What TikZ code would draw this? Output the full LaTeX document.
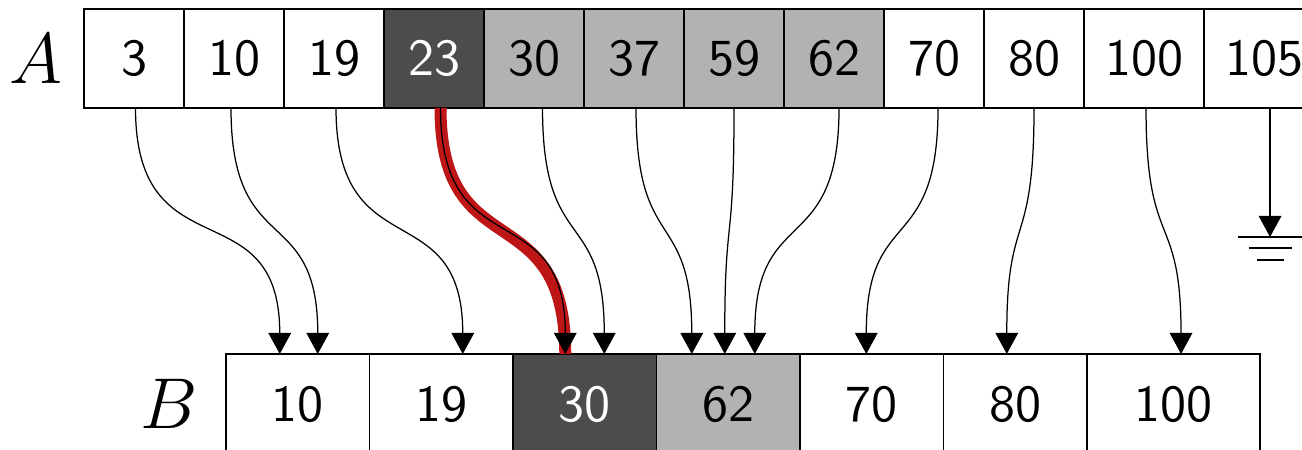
\documentclass[tikz,border=0pt]{standalone}
\usetikzlibrary{positioning,arrows.meta}
\definecolor{hlred}{RGB}{190,22,22}
\begin{document}
\begin{tikzpicture}
[x=0.2pt,y=-0.2pt,
 every node/.style={draw=black,line width=0.25pt,inner sep=0mm,outer sep=0mm,font=\fontsize{10.4}{12}\selectfont\sffamily},
 cell/.style={rectangle,minimum width=20pt,minimum height=19.8pt},
 wide/.style={minimum width=24pt},
 bcell/.style={rectangle,minimum width=28.7pt,minimum height=20pt},
 bwide/.style={minimum width=34.6pt},
 dark/.style={fill=black!70,text=white},
 light/.style={fill=black!30},
 lbl/.style={draw=none,font=\fontsize{15}{18}\selectfont},
 link/.style={line width=0.25pt,-{Triangle[width=4.5pt,length=4.2pt]},out=-90,in=90,looseness=1.5},
 hilite/.style={line width=2.4pt,draw=hlred,out=-90,in=90,looseness=1.5}]
\useasboundingbox (0,0) rectangle (1302,450);
\clip (0,0) rectangle (1302,450);
% array A
\node[cell]       (a3)   at (84,9) [anchor=north west] {3};
\node[cell]       (a10)  [right=0mm of a3]   {10};
\node[cell]       (a19)  [right=0mm of a10]  {19};
\node[cell,dark]  (a23)  [right=0mm of a19]  {23};
\node[cell,light] (a30)  [right=0mm of a23]  {30};
\node[cell,light] (a37)  [right=0mm of a30]  {37};
\node[cell,light] (a59)  [right=0mm of a37]  {59};
\node[cell,light] (a62)  [right=0mm of a59]  {62};
\node[cell]       (a70)  [right=0mm of a62]  {70};
\node[cell]       (a80)  [right=0mm of a70]  {80};
\node[cell,wide]  (a100) [right=0mm of a80]  {100};
\node[cell,wide]  (a105) [right=0mm of a100] {105};
\node[lbl]        (labA) [left=4.4pt of a3]  {$A$};
% array B
\node[bcell]       (b10)  at (226,354) [anchor=north west] {10};
\node[bcell]       (b19)  [right=0mm of b10] {19};
\node[bcell,dark]  (b30)  [right=0mm of b19] {30};
\node[bcell,light] (b62)  [right=0mm of b30] {62};
\node[bcell]       (b70)  [right=0mm of b62] {70};
\node[bcell]       (b80)  [right=0mm of b70] {80};
\node[bcell,bwide] (b100) [right=0mm of b80] {100};
\node[lbl]         (labB) [left=5.6pt of b10] {$B$};
% ground for the last element
\coordinate[below=25.8pt of a105.south,xshift=1.2pt] (gnd);
\draw[line width=0.35pt] ([xshift=-6.5pt]gnd) -- ([xshift=6.5pt]gnd);
\draw[line width=0.35pt] ([xshift=-4.3pt,yshift=-2.2pt]gnd) -- ([xshift=4.3pt,yshift=-2.2pt]gnd);
\draw[line width=0.35pt] ([xshift=-2.7pt,yshift=-4.6pt]gnd) -- ([xshift=2.7pt,yshift=-4.6pt]gnd);
% links
\path[hilite] ([xshift=1.3pt]a23.south)  edge ([xshift=-3.9pt]b30.north);
\path[link]   ([xshift=0.3pt]a3.south)   edge ([xshift=-3.6pt]b10.north);
\path[link]   ([xshift=-0.6pt]a10.south) edge ([xshift=4pt]b10.north);
\path[link]   ([xshift=0.4pt]a19.south)  edge ([xshift=4.3pt]b19.north);
\path[link]   ([xshift=1.3pt]a23.south)  edge ([xshift=-3.9pt]b30.north);
\path[link]   ([xshift=1.7pt]a30.south)  edge ([xshift=3.9pt]b30.north);
\path[link]   ([xshift=0.4pt]a37.south)  edge ([xshift=-7.3pt]b62.north);
\path[link]   (a59.south)                edge ([xshift=-0.7pt]b62.north);
\path[link]   ([xshift=1pt]a62.south)    edge ([xshift=5.3pt]b62.north);
\path[link]   ([xshift=0.8pt]a70.south)  edge ([xshift=-1.1pt]b70.north);
\path[link]   (a80.south)                edge ([xshift=-1.7pt]b80.north);
\path[link]   ([xshift=0.4pt]a100.south) edge ([xshift=1.5pt]b100.north);
\path[link]   ([xshift=1.2pt]a105.south) edge (gnd);
\end{tikzpicture}
\end{document}
